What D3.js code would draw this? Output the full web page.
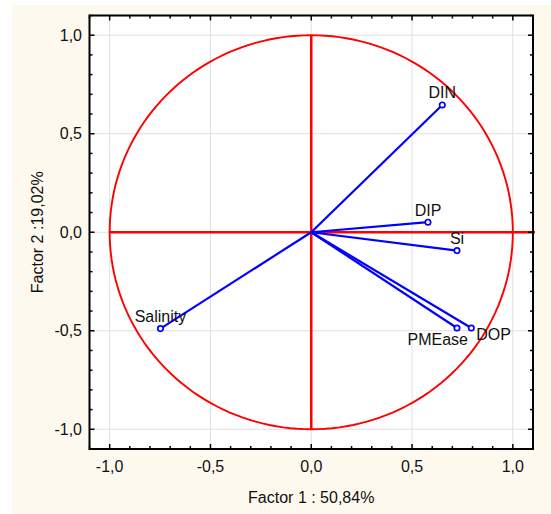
<!DOCTYPE html>
<html><head><meta charset="utf-8">
<script src="https://cdn.jsdelivr.net/npm/d3@7"></script>
<style>html,body{margin:0;padding:0;background:#fff;}svg{display:block;}</style>
</head><body>
<script>
// ---- data ----
const variables = ["DIN", "DIP", "Si", "PMEase", "DOP", "Salinity"];
const factor1 = [0.65, 0.579, 0.723, 0.723, 0.794, -0.748];
const factor2 = [0.646, 0.051, -0.093, -0.486, -0.486, -0.489];
const majorTicks = [-1.0, -0.5, 0.0, 0.5, 1.0];
const minorTicks = [-1.1,-0.9,-0.8,-0.7,-0.6,-0.4,-0.3,-0.2,-0.1,0.1,0.2,0.3,0.4,0.6,0.7,0.8,0.9,1.1];
const xTitle = "Factor 1 : 50,84%";
const yTitle = "Factor 2 :19,02%";

// ---- drawing ----
const W = 551, H = 514;
const svg = d3.select("body").append("svg").attr("width", W).attr("height", H);
svg.append("rect").attr("x", 12).attr("y", 5).attr("width", W - 12).attr("height", H - 5).attr("fill", "#fdf9ef");

const x = d3.scaleLinear().domain([-1.1, 1.1]).range([89.5, 533]);
const y = d3.scaleLinear().domain([-1.1, 1.1]).range([449, 15.5]);
const [x0, x1] = x.range(), [y0, y1] = y.range();
const fmt = v => d3.format(".1f")(v).replace(".", ",").replace("−", "-");
const font = "'Liberation Sans', Arial, sans-serif";
const ink = "#111";

svg.append("rect").attr("x", x0).attr("y", y1).attr("width", x1 - x0).attr("height", y0 - y1).attr("fill", "#fff");

// grid
const g = svg.append("g");
g.selectAll(".gx").data(majorTicks).join("line")
  .attr("x1", d => x(d)).attr("x2", d => x(d)).attr("y1", y1).attr("y2", y0)
  .attr("stroke", "#e0e0e0").attr("stroke-width", 1);
g.selectAll(".gy").data(majorTicks).join("line")
  .attr("y1", d => y(d)).attr("y2", d => y(d)).attr("x1", x0).attr("x2", x1)
  .attr("stroke", "#e0e0e0").attr("stroke-width", 1);

// unit circle
const circ = d3.range(0, 361, 2).map(a => [Math.cos(a * Math.PI / 180), Math.sin(a * Math.PI / 180)]);
svg.append("path").datum(circ)
  .attr("d", d3.line().x(d => x(d[0])).y(d => y(d[1])).curve(d3.curveLinearClosed))
  .attr("fill", "none").attr("stroke", "#ff0000").attr("stroke-width", 1.9);

// red axes
svg.append("line").attr("x1", x(-1)).attr("x2", x(1.11)).attr("y1", y(0)).attr("y2", y(0))
  .attr("stroke", "#ff0000").attr("stroke-width", 2.5);
svg.append("line").attr("x1", x(0)).attr("x2", x(0)).attr("y1", y(1)).attr("y2", y(-1))
  .attr("stroke", "#ff0000").attr("stroke-width", 2.5);

// vectors
const pts = variables.map((v, i) => ({name: v, fx: factor1[i], fy: factor2[i]}));
svg.selectAll(".vec").data(pts).join("line")
  .attr("x1", x(0)).attr("y1", y(0)).attr("x2", d => x(d.fx)).attr("y2", d => y(d.fy))
  .attr("stroke", "#0000ff").attr("stroke-width", 2.2);
svg.selectAll(".pt").data(pts).join("circle")
  .attr("cx", d => x(d.fx)).attr("cy", d => y(d.fy)).attr("r", 2.7)
  .attr("fill", "#fff").attr("stroke", "#0000ff").attr("stroke-width", 1.7);

const placement = {PMEase: {anchor: "end", dx: 11, dy: 17}, DOP: {anchor: "start", dx: 5, dy: 12}};
svg.selectAll(".lbl").data(pts).join("text")
  .attr("x", d => x(d.fx) + (placement[d.name] ? placement[d.name].dx : 0))
  .attr("y", d => y(d.fy) + (placement[d.name] ? placement[d.name].dy : -6.5))
  .attr("text-anchor", d => placement[d.name] ? placement[d.name].anchor : "middle")
  .attr("font-family", font).attr("font-size", 16).attr("fill", ink)
  .text(d => d.name);

// frame & ticks
svg.append("rect").attr("x", x0).attr("y", y1).attr("width", x1 - x0).attr("height", y0 - y1)
  .attr("fill", "none").attr("stroke", "#000").attr("stroke-width", 2);
const ticks = majorTicks.map(t => ({v: t, len: 5})).concat(minorTicks.map(t => ({v: t, len: 3})));
const tg = svg.append("g").attr("stroke", "#000").attr("stroke-width", 1.5);
ticks.forEach(t => {
  tg.append("line").attr("x1", x(t.v)).attr("x2", x(t.v)).attr("y1", y0).attr("y2", y0 - t.len);
  tg.append("line").attr("x1", x(t.v)).attr("x2", x(t.v)).attr("y1", y1).attr("y2", y1 + t.len);
  tg.append("line").attr("y1", y(t.v)).attr("y2", y(t.v)).attr("x1", x0).attr("x2", x0 + t.len);
  tg.append("line").attr("y1", y(t.v)).attr("y2", y(t.v)).attr("x1", x1).attr("x2", x1 - t.len);
});

// tick labels
svg.selectAll(".xl").data(majorTicks).join("text")
  .attr("x", d => x(d)).attr("y", 472).attr("text-anchor", "middle")
  .attr("font-family", font).attr("font-size", 16).attr("fill", ink).text(fmt);
svg.selectAll(".yl").data(majorTicks).join("text")
  .attr("x", 82).attr("y", d => y(d) + 5.5).attr("text-anchor", "end")
  .attr("font-family", font).attr("font-size", 16).attr("fill", ink).text(fmt);

// titles
svg.append("text").attr("x", x(0)).attr("y", 503).attr("text-anchor", "middle")
  .attr("font-family", font).attr("font-size", 16).attr("fill", ink).text(xTitle);
svg.append("text").attr("transform", `translate(43,${y(0)}) rotate(-90)`).attr("text-anchor", "middle")
  .attr("font-family", font).attr("font-size", 16).attr("fill", ink).text(yTitle);
</script>
</body></html>
